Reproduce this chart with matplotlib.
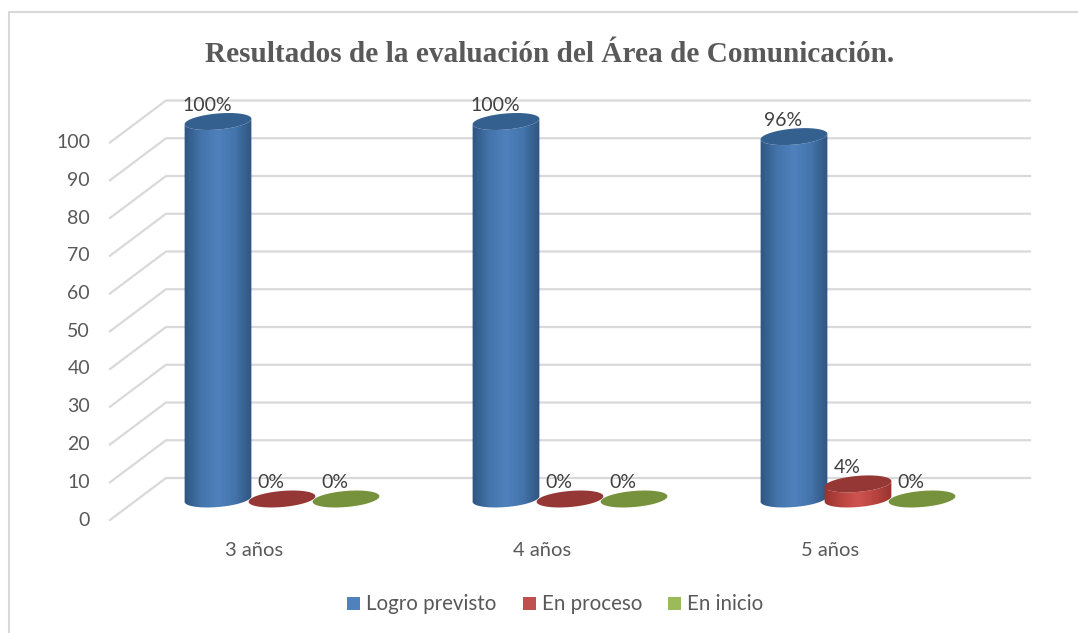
import numpy as np
import matplotlib
matplotlib.use('Agg')
import matplotlib.pyplot as plt
from matplotlib.colors import LinearSegmentedColormap
from matplotlib.patches import Polygon, Rectangle

categorias = ['3 años', '4 años', '5 años']
series = ['Logro previsto', 'En proceso', 'En inicio']
logro = [100, 100, 96]
proceso = [0, 0, 4]
inicio = [0, 0, 0]
valores = [logro, proceso, inicio]
ticks = list(range(0, 101, 10))

leyenda = ['#4f81bd', '#c0504d', '#9bbb59']
tapas = ['#34608f', '#953735', '#76923c']
lados = [['#2f5480', '#4474ab', '#4f81bd', '#4474ab', '#2f5480'],
         ['#98332f', '#b8443f', '#cf5450', '#b8443f', '#98332f'],
         ['#5f7a30', '#7d9c45', '#9bbb59', '#7d9c45', '#5f7a30']]
gris = '#595959'
W, H = 1078, 633

fig = plt.figure(figsize=(W / 100, H / 100), dpi=100)
# los ejes ocupan toda la figura; la pared frontal va de 110 a 974 px y de 142.5 a 520 px
ax = fig.add_axes([0, 0, 1, 1])
ax.axis('off')

px = 3 / 864        # categorias por pixel
py = 100 / 377.5    # valor por pixel
fondo_x, fondo_y = 56 * px, 42 * py


def borde(t, cx, cy):
    # puntos de una elipse inclinada, en coordenadas de datos
    a, b, g = 33.5, 8, np.radians(5)
    ex = a * np.cos(t) * np.cos(g) - b * np.sin(t) * np.sin(g)
    ey = a * np.cos(t) * np.sin(g) + b * np.sin(t) * np.cos(g)
    return np.column_stack([cx + ex * px, cy + ey * py])


def cilindro(cx, cy, valor, i):
    arriba = cy + valor
    if valor > 0:
        t = np.linspace(np.pi, 2 * np.pi, 40)
        lado = np.vstack([borde(t, cx, cy), borde(t[::-1], cx, arriba)])
        cmap = LinearSegmentedColormap.from_list('c', lados[i])
        grad = np.linspace(0, 1, 256).reshape(1, -1)
        im = ax.imshow(grad, cmap=cmap, aspect='auto', zorder=3,
                       extent=[cx - 34 * px, cx + 34 * px, cy - 12 * py, arriba + 12 * py])
        parche = Polygon(lado, closed=True, fc='none', ec='none')
        ax.add_patch(parche)
        im.set_clip_path(parche)
    t = np.linspace(0, 2 * np.pi, 80)
    ax.add_patch(Polygon(borde(t, cx, arriba), closed=True, fc=tapas[i], ec='none', zorder=4))


# rejilla: suelo oblicuo y pared del fondo
for v in ticks:
    ax.plot([-0.5, -0.5 + fondo_x, 2.5 + fondo_x], [v, v + fondo_y, v + fondo_y],
            color='#d9d9d9', lw=1.6, zorder=1)
    ax.text(-0.5 - 20 * px, v, str(v), ha='right', va='center', fontsize=14,
            color=gris, family='Lato')

# cilindros y etiquetas
for i, vals in enumerate(valores):
    for j, v in enumerate(vals):
        cx = j + fondo_x / 2 + (i - 1) * 64 * px
        cy = fondo_y / 2
        cilindro(cx, cy, v, i)
        ax.text(cx - 11 * px, cy + v + 16 * py, f'{v}%', ha='center', va='center',
                fontsize=14, color='#404040', family='Lato', zorder=5)

for j, c in enumerate(categorias):
    ax.text(j, -31 * py, c, ha='center', va='center', fontsize=14.5, color=gris, family='Lato')

ax.set_xlim(-0.5 - 110 * px, -0.5 + (W - 110) * px)
ax.set_ylim(-(H - 520) * py, 520 * py)

# titulo
fig.text(550 / W, 1 - 55 / H, 'Resultados de la evaluación del Área de Comunicación.',
         ha='center', va='center', fontsize=21.1, fontweight='bold', color=gris,
         family='Liberation Serif')

# leyenda
xs_cuadro = [347, 523, 668]
for x, s, col in zip(xs_cuadro, series, leyenda):
    fig.add_artist(Rectangle((x / W, 1 - 610 / H), 13 / W, 13 / H, fc=col, ec='none',
                             transform=fig.transFigure))
    fig.text((x + 19) / W, 1 - 603.5 / H, s, ha='left', va='center', fontsize=14.8,
             color=gris, family='Lato')

# marco
fig.add_artist(plt.Line2D([9 / W, 9 / W, 1], [0, 1 - 12 / H, 1 - 12 / H],
                          color='#d9d9d9', lw=1.5, transform=fig.transFigure))

fig.savefig('out.png', dpi=100)
